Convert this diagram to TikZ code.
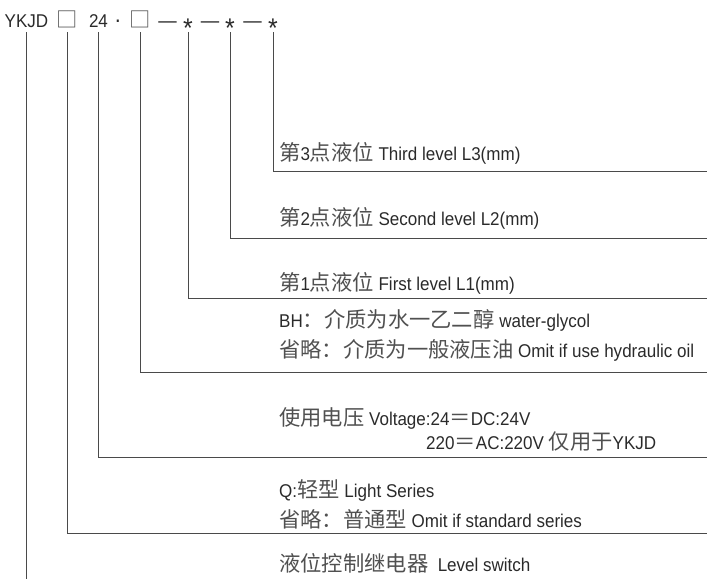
\documentclass[tikz,border=0pt]{standalone}
\usepackage{fontspec}
\setmainfont{Liberation Sans}[FakeStretch=0.92]
\newfontfamily\cjk{Noto Sans CJK SC}
\definecolor{txtcol}{HTML}{2A2A2A}
\definecolor{zhcol}{HTML}{505050}
\definecolor{lncol}{HTML}{4A4A4A}
\newcommand\zh[1]{{\cjk\fontsize{21.3}{24}\selectfont\color{zhcol}#1}}
\tikzset{
  code/.style={inner sep=0pt, anchor=base, text=txtcol, font=\fontsize{18.5}{20}\selectfont},
  dash line/.style={inner sep=0pt, anchor=base, text=txtcol, font=\fontsize{20}{24}\selectfont},
  midpoint/.style={inner sep=0pt, anchor=base, text=txtcol, font=\fontsize{23}{24}\selectfont},
  star/.style={inner sep=0pt, anchor=center, text=txtcol, font=\fontsize{27}{28}\selectfont},
  desc/.style={inner sep=0pt, anchor=west, text=txtcol, font=\fontsize{18.5}{22}\selectfont},
  lead/.style={draw=lncol, line width=0.9pt}
}
\begin{document}
\begin{tikzpicture}[x=1pt,y=-1pt]
\useasboundingbox (0,0) rectangle (707,579);
% top code row
\node[code] (ykjd) at (26.5,27.5) {YKJD};
\node[code] (b1) at (67,27.5) {\zh{□}};
\node[code] (v24) at (98.5,27.5) {24};
\node[midpoint] (dot) at (118,27.5) {·};
\node[code] (b2) at (140,27.5) {\zh{□}};
\node[dash line] (d1) at (167.5,27.5) {—};
\node[star] (s1) at (188,28) {*};
\node[dash line] (d2) at (210,27.5) {—};
\node[star] (s2) at (230,28) {*};
\node[dash line] (d3) at (252.5,27.5) {—};
\node[star] (s3) at (273,28) {*};
\coordinate (top) at (0,32);
\coordinate (bot) at (0,579);
% end points
\coordinate (e3) at (707,171);
\coordinate (e2) at (707,238);
\coordinate (e1) at (707,298);
\coordinate (eb) at (707,372);
\coordinate (ev) at (707,457);
\coordinate (eq) at (707,533);
% leaders
\draw[lead] (s3 |- top) -- (s3 |- e3) -- (e3);
\draw[lead] (s2 |- top) -- (s2 |- e2) -- (e2);
\draw[lead] (s1 |- top) -- (s1 |- e1) -- (e1);
\draw[lead] (b2 |- top) -- (b2 |- eb) -- (eb);
\draw[lead] (v24 |- top) -- (v24 |- ev) -- (ev);
\draw[lead] (b1 |- top) -- (b1 |- eq) -- (eq);
\draw[lead] (ykjd |- top) -- (ykjd |- bot);
% descriptions
\node[desc] (t3) at (279,153) {\zh{第}3\zh{点液位} Third level L3(mm)};
\node[desc] (t2) at (279,218) {\zh{第}2\zh{点液位} Second level L2(mm)};
\node[desc] (t1) at (279,283) {\zh{第}1\zh{点液位} First level L1(mm)};
\node[desc] (bh) at (279,320) {BH\zh{：介质为水一乙二醇} water-glycol};
\node[desc] (om) at (279,350) {\zh{省略：介质为一般液压油} Omit if use hydraulic oil};
\node[desc] (vo) at (279,418) {\zh{使用电压} Voltage:24\zh{＝}DC:24V};
\node[desc] (vb) at (426,442) {220\zh{＝}AC:220V \zh{仅用于}YKJD};
\node[desc] (q) at (279,490) {Q:\zh{轻型} Light Series};
\node[desc] (qs) at (279,519) {\zh{省略：普通型} Omit if standard series};
\node[desc] (ls) at (279,563) {\zh{液位控制继电器}\ \ Level switch};
\end{tikzpicture}
\end{document}
